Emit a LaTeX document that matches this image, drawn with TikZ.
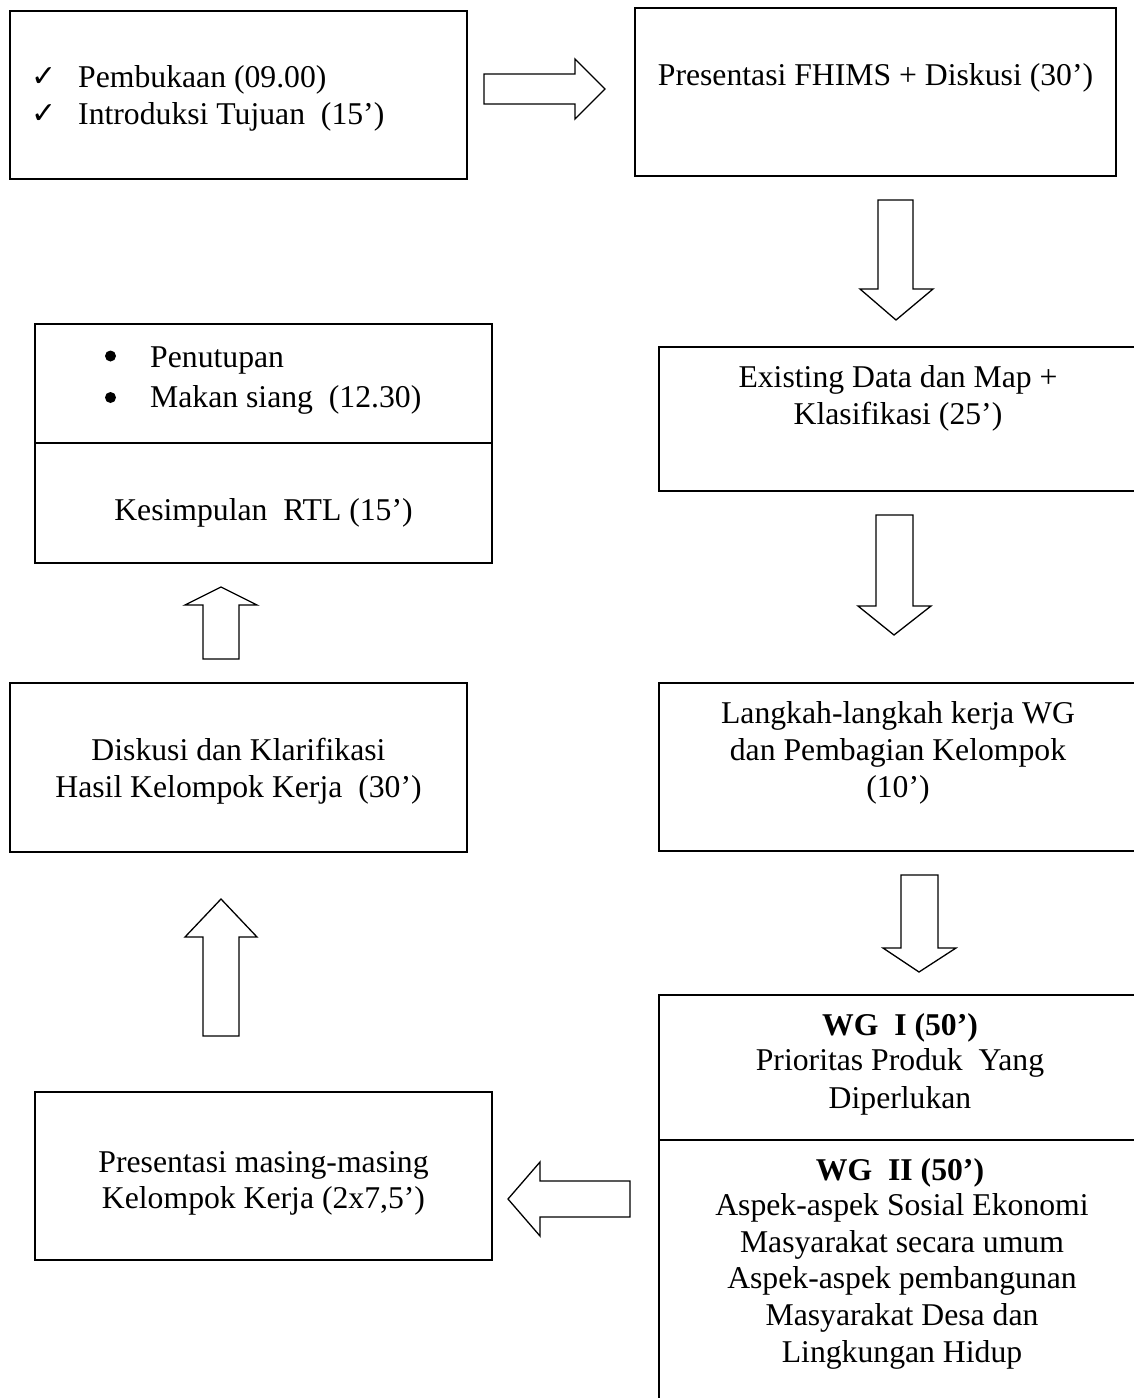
\documentclass[tikz,border=0pt]{standalone}
\usepackage{fontspec}
\setmainfont{Liberation Serif}
\newfontfamily\symfont{DejaVu Sans}
\begin{document}
\begin{tikzpicture}[x=1pt,y=-1pt,
  box/.style={draw, line width=1.6pt, inner sep=0pt, outer sep=0pt},
  txt/.style={anchor=base, inner sep=0pt, font=\fontsize{31.7}{37}\selectfont},
  ltxt/.style={txt, anchor=base west},
  chk/.style={anchor=base, inner sep=0pt, font=\symfont\fontsize{30}{32}\selectfont},
  bul/.style={circle, fill, inner sep=0pt, minimum size=11pt},
  barrow/.style={draw, line width=1.3pt, line join=miter, fill=white}]
\useasboundingbox (0,0) rectangle (1134,1398);
\clip (0,0) rectangle (1134,1398);

% boxes
\node[box, minimum width=457pt, minimum height=168pt] (b1) at (238.5,95) {};
\node[box, minimum width=481pt, minimum height=168pt] (b2) at (875.5,92) {};
\node[box, minimum width=457pt, minimum height=239pt] (b3) at (263.5,443.5) {};
\node[box, minimum width=478pt, minimum height=144pt] (b4) at (898,419) {};
\node[box, minimum width=478pt, minimum height=168pt] (b5) at (898,767) {};
\node[box, minimum width=457pt, minimum height=169pt] (b6) at (238.5,767.5) {};
\node[box, minimum width=478pt, minimum height=425pt] (b7) at (898,1207.5) {};
\node[box, minimum width=457pt, minimum height=168pt] (b8) at (263.5,1176) {};

% dividers
\draw[line width=1.6pt] (b3.west |- 0,443) coordinate (d3a) -- (b3.east |- 0,443) coordinate (d3b);
\draw[line width=1.6pt] (b7.west |- 0,1140) coordinate (d7a) -- (b7.east |- 0,1140) coordinate (d7b);

% box 1
\node[chk] (c1) at (44,86) {✓};
\node[chk] (c2) at (44,123) {✓};
\node[ltxt] (t1a) at (78,87) {Pembukaan (09.00)};
\node[ltxt] (t1b) at (78,124) {Introduksi Tujuan~ (15’)};

% box 2
\node[txt] (t2) at (875.5,85) {Presentasi FHIMS + Diskusi (30’)};

% box 3
\node[bul] (bl1) at (110.5,356) {};
\node[bul] (bl2) at (110.5,397.5) {};
\node[ltxt] (t3a) at (150,367) {Penutupan};
\node[ltxt] (t3b) at (150,407) {Makan siang~ (12.30)};
\node[txt] (t3c) at (263.5,520) {Kesimpulan~ RTL (15’)};

% box 4
\node[txt] (t4a) at (898,387) {Existing Data dan Map +};
\node[txt] (t4b) at (898,424) {Klasifikasi (25’)};

% box 5
\node[txt] (t5a) at (898,723) {Langkah-langkah kerja WG};
\node[txt] (t5b) at (898,760) {dan Pembagian Kelompok};
\node[txt] (t5c) at (898,797) {(10’)};

% box 6
\node[txt] (t6a) at (238.5,760) {Diskusi dan Klarifikasi};
\node[txt] (t6b) at (238.5,797) {Hasil Kelompok Kerja~ (30’)};

% box 7
\node[txt, font=\bfseries\fontsize{31.7}{37}\selectfont] (t7a) at (900,1035) {WG~ I (50’)};
\node[txt] (t7b) at (900,1070) {Prioritas Produk~ Yang};
\node[txt] (t7c) at (900,1108) {Diperlukan};
\node[txt, font=\bfseries\fontsize{31.7}{37}\selectfont] (t7d) at (900,1180) {WG~ II (50’)};
\node[txt] (t7e) at (902,1215) {Aspek-aspek Sosial Ekonomi};
\node[txt] (t7f) at (902,1252) {Masyarakat secara umum};
\node[txt] (t7g) at (902,1288) {Aspek-aspek pembangunan};
\node[txt] (t7h) at (902,1325) {Masyarakat Desa dan};
\node[txt] (t7i) at (902,1362) {Lingkungan Hidup};

% box 8
\node[txt] (t8a) at (263.5,1172) {Presentasi masing-masing};
\node[txt] (t8b) at (263.5,1208) {Kelompok Kerja (2x7,5’)};

% block arrows
\draw[barrow] (484,74) -- (575,74) -- (575,59) -- (605,89) -- (575,119) -- (575,104) -- (484,104) -- cycle;
\draw[barrow] (878,200) -- (913,200) -- (913,289) -- (933,289) -- (896,320) -- (860,289) -- (878,289) -- cycle;
\draw[barrow] (876,515) -- (913,515) -- (913,606) -- (931,606) -- (894,635) -- (858,606) -- (876,606) -- cycle;
\draw[barrow] (901,875) -- (938,875) -- (938,948) -- (956,948) -- (919,972) -- (883,948) -- (901,948) -- cycle;
\draw[barrow] (630,1181) -- (540,1181) -- (540,1162) -- (508,1199) -- (540,1236) -- (540,1217) -- (630,1217) -- cycle;
\draw[barrow] (203,659) -- (203,605) -- (185,605) -- (221,587) -- (257,605) -- (239,605) -- (239,659) -- cycle;
\draw[barrow] (203,1036) -- (203,937) -- (185,937) -- (221,899) -- (257,937) -- (239,937) -- (239,1036) -- cycle;
\end{tikzpicture}
\end{document}
